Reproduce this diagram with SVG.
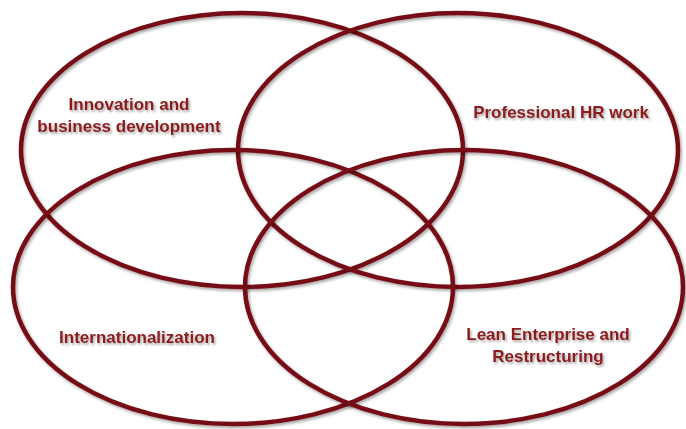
<svg xmlns="http://www.w3.org/2000/svg" width="686" height="429" viewBox="0 0 686 429">
  <defs>
    <filter id="shadow" x="-10%" y="-10%" width="120%" height="120%">
      <feDropShadow dx="1.5" dy="2" stdDeviation="1.5" flood-color="#000000" flood-opacity="0.35"/>
    </filter>
    <filter id="tshadow" x="-10%" y="-30%" width="120%" height="160%">
      <feDropShadow dx="1.5" dy="2" stdDeviation="1.2" flood-color="#000000" flood-opacity="0.35"/>
    </filter>
  </defs>
  <style>
    .ring { fill: none; stroke: #761014; stroke-width: 4.5; filter: url(#shadow); }
    .label { font-family: "Liberation Sans", Arial, sans-serif; font-weight: bold; font-size: 17px; fill: #8a1b1f; text-anchor: middle; filter: url(#tshadow); }
  </style>
  <rect width="686" height="429" fill="#ffffff"/>
  <g id="innovation">
    <ellipse class="ring" cx="242" cy="150" rx="221" ry="137"/>
    <text class="label" x="129" y="110">Innovation and</text>
    <text class="label" x="129" y="132">business development</text>
  </g>
  <g id="professional-hr">
    <ellipse class="ring" cx="458" cy="150" rx="220" ry="137"/>
    <text class="label" x="561" y="118">Professional HR work</text>
  </g>
  <g id="internationalization">
    <ellipse class="ring" cx="233" cy="287" rx="220" ry="137"/>
    <text class="label" x="137" y="343">Internationalization</text>
  </g>
  <g id="lean-enterprise">
    <ellipse class="ring" cx="464" cy="287" rx="219" ry="137"/>
    <text class="label" x="548" y="339.5">Lean Enterprise and</text>
    <text class="label" x="548" y="361.5">Restructuring</text>
  </g>
</svg>
